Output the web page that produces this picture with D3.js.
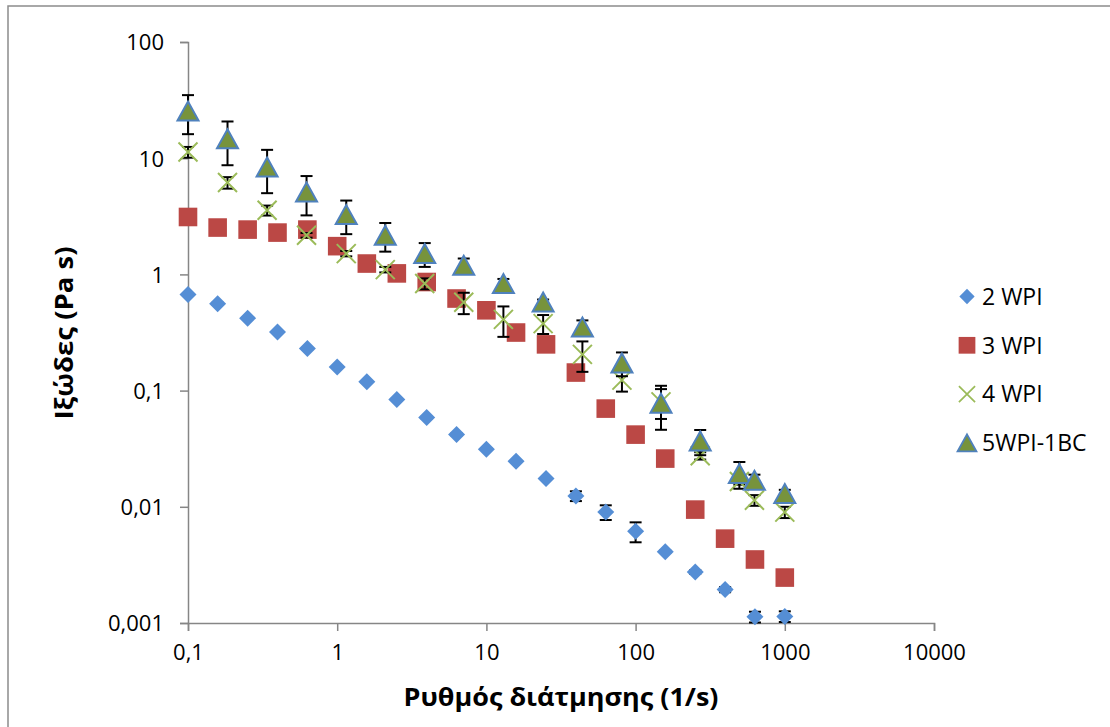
<!DOCTYPE html>
<html>
<head>
<meta charset="utf-8">
<script src="https://cdn.jsdelivr.net/npm/d3@7"></script>
<style>
  body { margin: 0; background: #fff; }
  svg { display: block; font-family: "Open Sans", "Noto Sans", sans-serif; }
</style>
</head>
<body>
<svg id="chart" width="1110" height="727"></svg>
<script>
// shear rates (1/s)
const shearA = [0.1, 0.158, 0.251, 0.398, 0.631, 1, 1.58, 2.51, 3.98, 6.31, 10, 15.8, 25.1, 39.8, 63.1, 100, 158, 251, 398, 631, 1000];
const shearB = [0.1, 0.184, 0.339, 0.623, 1.15, 2.1, 3.86, 7.05, 13, 24, 44, 81, 148, 271, 496, 626, 1000];

// viscosity (Pa s) and error values
const wpi2 = [0.67, 0.56, 0.42, 0.32, 0.23, 0.16, 0.119, 0.084, 0.0586, 0.042, 0.0313, 0.0247, 0.0175, 0.0124, 0.009, 0.00615, 0.0041, 0.00275, 0.00194, 0.00113, 0.00114];
const wpi2Err = [0.01, 0.01, 0.005, 0.005, 0.003, 0.002, 0.002, 0.001, 0.001, 0.0008, 0.0005, 0.0004, 0.0004, 0.0012, 0.0013, 0.0012, 0.0001, 0.0001, 0.0001, 0.00012, 0.00012];
const wpi3 = [3.12, 2.53, 2.43, 2.29, 2.43, 1.75, 1.24, 1.02, 0.86, 0.62, 0.491, 0.316, 0.25, 0.143, 0.07, 0.0418, 0.026, 0.00946, 0.00532, 0.00352, 0.00246];
const wpi3Err = [0.05, 0.05, 0.05, 0.04, 0.04, 0.03, 0.02, 0.02, 0.01, 0.01, 0.008, 0.005, 0.004, 0.002, 0.001, 0.0006, 0.0004, 0.0001, 0.0001, 0.00005, 0.00004];
const wpi4 = [11.3, 6.17, 3.56, 2.17, 1.51, 1.1, 0.834, 0.575, 0.41, 0.377, 0.205, 0.123, 0.08, 0.0275, 0.0165, 0.0114, 0.009];
const wpi4Err = [1.2, 0.7, 0.35, 0.1, 0.08, 0.06, 0.09, 0.12, 0.12, 0.07, 0.06, 0.025, 0.023, 0.002, 0.001, 0.0012, 0.001];
const wpi5 = [25.5, 14.7, 8.4, 5.12, 3.27, 2.17, 1.51, 1.2, 0.834, 0.578, 0.352, 0.173, 0.078, 0.0368, 0.0193, 0.0169, 0.013];
const wpi5Err = [9.4, 6, 3.4, 1.9, 1.05, 0.6, 0.35, 0.17, 0.08, 0.03, 0.05, 0.04, 0.032, 0.009, 0.005, 0.002, 0.001];

const seriesNames = ["2 WPI", "3 WPI", "4 WPI", "5WPI-1BC"];
const xTicks = [0.1, 1, 10, 100, 1000, 10000];
const yTicks = [0.001, 0.01, 0.1, 1, 10, 100];

const series = [
  { name: seriesNames[0], x: shearA, y: wpi2, err: wpi2Err, kind: "diamond" },
  { name: seriesNames[1], x: shearA, y: wpi3, err: wpi3Err, kind: "square" },
  { name: seriesNames[2], x: shearB, y: wpi4, err: wpi4Err, kind: "cross" },
  { name: seriesNames[3], x: shearB, y: wpi5, err: wpi5Err, kind: "triangle" }
];

const svg = d3.select("#chart");
const fmt = v => String(v).replace(".", ",");

// outer chart frame
svg.append("rect")
  .attr("x", 8).attr("y", 6)
  .attr("width", 1200).attr("height", 800)
  .attr("fill", "none")
  .attr("stroke", "#8c8c8c")
  .attr("stroke-width", 1.5);

const x = d3.scaleLog().domain([0.1, 10000]).range([188, 934]);
const y = d3.scaleLog().domain([0.001, 100]).range([623, 42]);

// axes
const xAxis = svg.append("g")
  .attr("transform", `translate(0,${y.range()[0]})`)
  .call(d3.axisBottom(x).tickValues(xTicks).tickFormat(fmt).tickSize(8).tickPadding(13));
const yAxis = svg.append("g")
  .attr("transform", `translate(${x.range()[0]},0)`)
  .call(d3.axisLeft(y).tickValues(yTicks).tickFormat(fmt).tickSize(8).tickPadding(16));

[xAxis, yAxis].forEach(ax => {
  ax.select(".domain").attr("stroke", "#868686").attr("stroke-width", 1.5);
  ax.selectAll(".tick line").attr("stroke", "#868686").attr("stroke-width", 1.5);
  ax.selectAll(".tick text")
    .attr("fill", "#000")
    .style("font-family", "'Open Sans', sans-serif")
    .style("font-size", "22px");
});
yAxis.selectAll(".tick text").attr("dy", "0.36em");

// marker shapes
function markerPath(kind) {
  if (kind === "diamond") return "M0,-8.5L8.5,0L0,8.5L-8.5,0Z";
  if (kind === "square") return "M-9.3,-9.3H9.3V9.3H-9.3Z";
  if (kind === "triangle") return "M0,-9.5L10.5,9.5L-10.5,9.5Z";
  return "M-9.5,-9.5L9.5,9.5M9.5,-9.5L-9.5,9.5";
}
function styleMarker(sel, kind) {
  if (kind === "diamond") sel.attr("fill", "#558ed5");
  else if (kind === "square") sel.attr("fill", "#bb4845");
  else if (kind === "triangle") sel.attr("fill", "#77933c").attr("stroke", "#4f81bd").attr("stroke-width", 2).attr("stroke-linejoin", "miter");
  else sel.attr("fill", "none").attr("stroke", "#9bbb59").attr("stroke-width", 2);
}

const plot = svg.append("g");

series.forEach(s => {
  const pts = s.x.map((xv, i) => ({ x: xv, y: s.y[i], e: s.err[i] }));
  const g = plot.append("g");

  // error bars
  const bars = g.append("g").selectAll("g").data(pts).join("g")
    .attr("stroke", "#000").attr("stroke-width", 2);
  bars.append("line")
    .attr("x1", d => x(d.x)).attr("x2", d => x(d.x))
    .attr("y1", d => y(d.y + d.e)).attr("y2", d => y(Math.max(d.y - d.e, 1e-6)));
  bars.append("line")
    .attr("x1", d => x(d.x) - 6).attr("x2", d => x(d.x) + 6)
    .attr("y1", d => y(d.y + d.e)).attr("y2", d => y(d.y + d.e));
  bars.append("line")
    .attr("x1", d => x(d.x) - 6).attr("x2", d => x(d.x) + 6)
    .attr("y1", d => y(Math.max(d.y - d.e, 1e-6))).attr("y2", d => y(Math.max(d.y - d.e, 1e-6)));

  // markers
  g.append("g").selectAll("path").data(pts).join("path")
    .attr("d", markerPath(s.kind))
    .attr("transform", d => `translate(${x(d.x)},${y(d.y)})`)
    .call(styleMarker, s.kind);
});

// axis titles
svg.append("text")
  .attr("x", 561).attr("y", 706)
  .attr("text-anchor", "middle")
  .attr("textLength", 315).attr("lengthAdjust", "spacingAndGlyphs")
  .style("font-weight", "bold").style("font-size", "25px")
  .text("Ρυθμός διάτμησης (1/s)");
svg.append("text")
  .attr("transform", "translate(73,333) rotate(-90)")
  .attr("text-anchor", "middle")
  .attr("textLength", 173).attr("lengthAdjust", "spacingAndGlyphs")
  .style("font-weight", "bold").style("font-size", "25px")
  .text("Ιξώδες (Pa s)");

// legend
const legend = svg.append("g").selectAll("g").data(series).join("g")
  .attr("transform", (d, i) => `translate(967,${296.5 + i * 48.8})`);
legend.append("path")
  .attr("d", d => markerPath(d.kind))
  .attr("transform", d => d.kind === "cross" ? "scale(0.85)" : "scale(0.9)")
  .each(function (d) { d3.select(this).call(styleMarker, d.kind); });
legend.append("text")
  .attr("x", 15).attr("dy", "0.36em")
  .style("font-size", "23px")
  .text(d => d.name);
</script>
</body>
</html>
